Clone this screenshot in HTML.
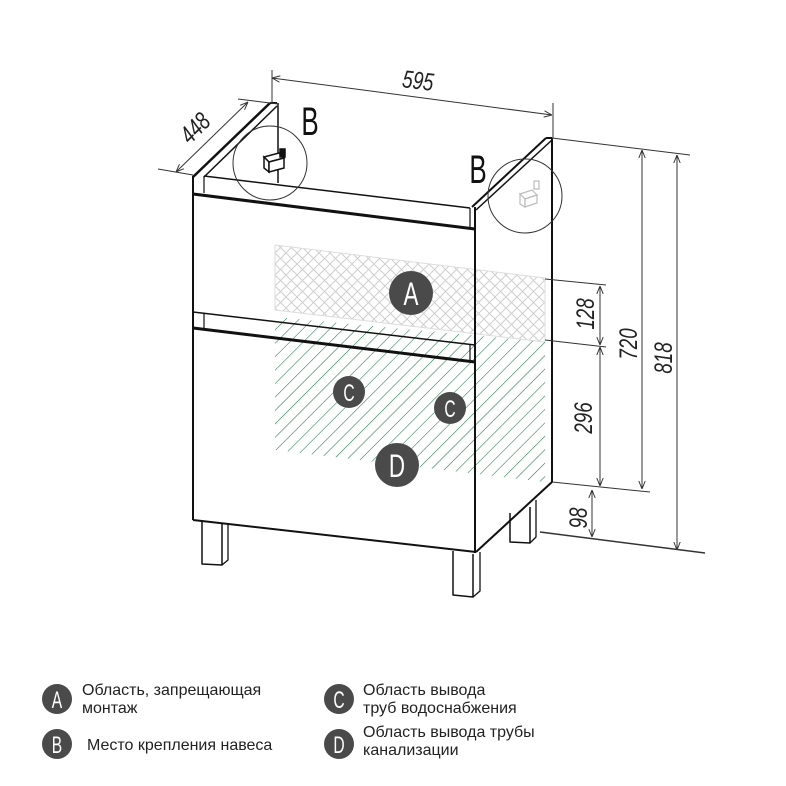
<!DOCTYPE html>
<html><head><meta charset="utf-8"><style>
html,body{margin:0;padding:0;background:#fff;}
svg{display:block;}
text{font-family:"Liberation Sans","DejaVu Sans",sans-serif;}
.leg{font-family:"Liberation Sans","Noto Sans CJK SC",sans-serif;font-size:16px;fill:#222;}
</style></head><body>
<svg width="786" height="786" viewBox="0 0 786 786" xmlns="http://www.w3.org/2000/svg">
<defs>
<pattern id="cross" width="11" height="11" patternUnits="userSpaceOnUse">
<path d="M0,0 L11,11 M11,0 L0,11" stroke="#cfcfcf" stroke-width="1" fill="none"/>
</pattern>
<pattern id="diag" width="9.5" height="9.5" patternUnits="userSpaceOnUse" patternTransform="rotate(45)">
<line x1="0" y1="0" x2="0" y2="9.5" stroke="#1f7a45" stroke-width="1.1"/>
</pattern>
<marker id="ar" viewBox="0 0 10 10" refX="10" refY="5" markerWidth="8" markerHeight="8" orient="auto-start-reverse">
<path d="M0,1 L10,5 L0,9" fill="none" stroke="#333" stroke-width="1.2"/>
</marker>
</defs>

<polygon points="275,245 545,278 545,342 275,310" fill="url(#cross)" stroke="#ddd" stroke-width="1"/>
<polygon points="275,317 545,342 545,482 275,450" fill="url(#diag)"/>

<g stroke="#111" fill="none" stroke-linejoin="round">
<line x1="193" y1="177" x2="270" y2="103" stroke-width="2.5"/>
<line x1="204" y1="177" x2="277" y2="106" stroke-width="1.5"/>
<line x1="270" y1="103" x2="277" y2="103" stroke-width="2"/>
<line x1="278" y1="103" x2="278" y2="183" stroke-width="1.5"/>
<line x1="204" y1="176" x2="470" y2="208" stroke-width="1.5"/>
<line x1="204" y1="176" x2="204" y2="193" stroke-width="1.2"/>
<line x1="472" y1="207" x2="546" y2="138" stroke-width="2"/>
<line x1="476" y1="210" x2="552" y2="140" stroke-width="1.5"/>
<line x1="546" y1="138" x2="552" y2="138" stroke-width="2"/>
<line x1="552" y1="138" x2="552" y2="482" stroke-width="2"/>
<line x1="193" y1="176" x2="193" y2="520" stroke-width="2"/>
<line x1="475" y1="207" x2="475" y2="553" stroke-width="2"/>
<line x1="470" y1="208" x2="470" y2="228" stroke-width="1.2"/>
<line x1="193" y1="194" x2="475" y2="229" stroke-width="3"/>
<line x1="193" y1="312" x2="475" y2="345" stroke-width="1.5"/>
<line x1="204" y1="313" x2="204" y2="329" stroke-width="1.2"/>
<line x1="470" y1="345" x2="470" y2="362" stroke-width="1.2"/>
<line x1="193" y1="328" x2="475" y2="362" stroke-width="3"/>
<line x1="193" y1="520" x2="476" y2="552" stroke-width="2"/>
<line x1="476" y1="552" x2="552" y2="482" stroke-width="2"/>
<polyline points="202,522 202,564 222,565 222,524" stroke-width="1.5"/>
<polyline points="222,565 228,560 228,523" stroke-width="1.3"/>
<polyline points="453,551 453,595 473,597 473,554" stroke-width="1.5"/>
<polyline points="473,597 480,591 480,552" stroke-width="1.3"/>
<polyline points="510,513 510,542 530,543 530,507" stroke-width="1.5"/>
<polyline points="530,543 536,537 536,500" stroke-width="1.3"/>
</g>

<g stroke="#111" stroke-width="1.5" fill="#fff">
<polygon points="264,157 279,153 284,158 269,162"/>
<polygon points="264,157 269,162 269,172 264,168"/>
<polygon points="269,162 284,158 284,168 269,172"/>
<rect x="280" y="149" width="5" height="8" fill="#111"/>
</g>
<g stroke="#bbb" stroke-width="1.2" fill="#fff">
<polygon points="520,194 532,190 537,195 525,199"/>
<polygon points="520,194 525,199 525,207 520,204"/>
<polygon points="525,199 537,195 537,203 525,207"/>
<rect x="534" y="181" width="5" height="8"/>
</g>
<circle cx="270" cy="163" r="37" fill="none" stroke="#333" stroke-width="1"/>
<circle cx="525" cy="196" r="37" fill="none" stroke="#333" stroke-width="1"/>

<g stroke="#333" stroke-width="1" fill="none">
<line x1="272" y1="70" x2="272" y2="103"/>
<line x1="272" y1="78" x2="552" y2="115" marker-start="url(#ar)" marker-end="url(#ar)"/>
<line x1="553" y1="103" x2="553" y2="138"/>
<line x1="238" y1="99" x2="278" y2="104"/>
<line x1="158" y1="169" x2="193" y2="175"/>
<line x1="248" y1="102" x2="176" y2="172" marker-start="url(#ar)" marker-end="url(#ar)"/>
<line x1="552" y1="138" x2="690" y2="155"/>
<line x1="642" y1="150" x2="642" y2="489" marker-start="url(#ar)" marker-end="url(#ar)"/>
<line x1="677" y1="155" x2="677" y2="550" marker-start="url(#ar)" marker-end="url(#ar)"/>
<line x1="545" y1="279" x2="606" y2="285"/>
<line x1="545" y1="340" x2="606" y2="347"/>
<line x1="600" y1="286" x2="600" y2="345" marker-start="url(#ar)" marker-end="url(#ar)"/>
<line x1="600" y1="347" x2="600" y2="486" marker-start="url(#ar)" marker-end="url(#ar)"/>
<line x1="552" y1="482" x2="650" y2="492"/>
<line x1="592" y1="490" x2="592" y2="537" marker-start="url(#ar)" marker-end="url(#ar)"/>
<line x1="540" y1="532" x2="705" y2="553" stroke-width="1.5"/>
</g>

<g fill="#222" font-size="25" font-style="italic">
<text transform="translate(417,89) rotate(7) scale(0.75,1)" text-anchor="middle">595</text>
<text transform="translate(201,134) rotate(-45) scale(0.75,1)" text-anchor="middle">448</text>
<text transform="translate(594,314) rotate(-90) scale(0.75,1)" text-anchor="middle">128</text>
<text transform="translate(637,344) rotate(-90) scale(0.75,1)" text-anchor="middle">720</text>
<text transform="translate(592,418) rotate(-90) scale(0.75,1)" text-anchor="middle">296</text>
<text transform="translate(672,358) rotate(-90) scale(0.75,1)" text-anchor="middle">818</text>
<text transform="translate(587,518) rotate(-90) scale(0.75,1)" text-anchor="middle">98</text>
</g>
<g fill="#111" font-size="40">
<text transform="translate(310,135) scale(0.65,1)" text-anchor="middle">B</text>
<text transform="translate(478,183) scale(0.65,1)" text-anchor="middle">B</text>
</g>

<g fill="#4a4a4a">
<circle cx="411" cy="293" r="22"/>
<circle cx="349" cy="392" r="16"/>
<circle cx="450" cy="408" r="16"/>
<circle cx="397" cy="465" r="22"/>
</g>
<g fill="#fff" text-anchor="middle">
<text transform="translate(411,305) scale(0.7,1)" font-size="32">A</text>
<text transform="translate(349,401) scale(0.65,1)" font-size="24">C</text>
<text transform="translate(450,417) scale(0.65,1)" font-size="24">C</text>
<text transform="translate(397,477) scale(0.7,1)" font-size="32">D</text>
</g>

<g fill="#4a4a4a">
<circle cx="57" cy="699" r="15"/>
<circle cx="57" cy="744" r="15"/>
<circle cx="339" cy="699" r="15"/>
<circle cx="339" cy="744" r="15"/>
</g>
<g fill="#fff" text-anchor="middle" font-size="24">
<text transform="translate(57,708) scale(0.65,1)">A</text>
<text transform="translate(57,753) scale(0.65,1)">B</text>
<text transform="translate(339,708) scale(0.65,1)">C</text>
<text transform="translate(339,753) scale(0.65,1)">D</text>
</g>
<text class="leg" x="82" y="695">Область, запрещающая</text>
<text class="leg" x="82" y="713">монтаж</text>
<text class="leg" x="87" y="750">Место крепления навеса</text>
<text class="leg" x="363" y="695">Область вывода</text>
<text class="leg" x="363" y="713">труб водоснабжения</text>
<text class="leg" x="363" y="737">Область вывода трубы</text>
<text class="leg" x="363" y="755">канализации</text>
</svg>
</body></html>
